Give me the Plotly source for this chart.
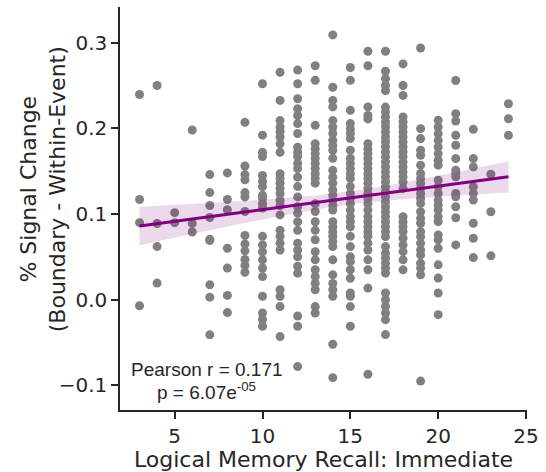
import numpy as np
import plotly.graph_objects as go

# Signal change values per Logical Memory Recall (Immediate) score
y_03 = [0.2395, 0.117, 0.0899, -0.007]
y_04 = [0.25, 0.089, 0.062, 0.0194]
y_05 = [0.1016, 0.0899]
y_06 = [0.198, 0.089, 0.079]
y_07 = [0.146, 0.125, 0.110, 0.096, 0.0705, 0.069, 0.0174, 0.003, -0.041]
y_08 = [0.148, 0.117, 0.105, 0.06, 0.037, 0.005, -0.015]
y_09 = [0.207, 0.156, 0.146, 0.140, 0.125, 0.120, 0.103, 0.075, 0.065, 0.057, 0.047, 0.040, 0.032]
y_10 = [0.252, 0.192, 0.172, 0.167, 0.145, 0.138, 0.132, 0.122, 0.118, 0.112, 0.107, 0.074, 0.064,
        0.056, 0.0465, 0.037, 0.027, 0.004, -0.0155, -0.023, -0.031]
y_11 = [0.2655, 0.2326, 0.209, 0.2016, 0.196, 0.19, 0.182, 0.172, 0.147, 0.1415, 0.136, 0.13, 0.124,
        0.116, 0.110, 0.099, 0.081, 0.074, 0.066, 0.058, 0.0116, 0.004, -0.008, -0.043]
y_12 = [0.268, 0.252, 0.2345, 0.223, 0.215, 0.2055, 0.194, 0.178, 0.172, 0.167, 0.159, 0.153, 0.143,
        0.132, 0.120, 0.1085, 0.101, 0.091, 0.081, 0.066, 0.058, 0.050, 0.039, 0.031, -0.019, -0.031, -0.078]
y_13 = [0.273, 0.256, 0.2035, 0.182, 0.176, 0.1705, 0.165, 0.159, 0.153, 0.147, 0.1415, 0.136, 0.112,
        0.103, 0.091, 0.081, 0.070, 0.056, 0.0465, 0.035, 0.027, 0.019, 0.0116, -0.008, -0.0155]
y_14 = [0.309, 0.248, 0.2326, 0.225, 0.209, 0.2016, 0.194, 0.186, 0.180, 0.1744, 0.165, 0.151, 0.143,
        0.136, 0.128, 0.122, 0.116, 0.110, 0.1047, 0.091, 0.085, 0.079, 0.074, 0.068, 0.062, 0.0465,
        0.029, 0.019, 0.0116, 0.004, -0.052, -0.091]
y_15 = [0.271, 0.256, 0.221, 0.2055, 0.1996, 0.194, 0.188, 0.1744, 0.165, 0.159, 0.153, 0.147, 0.1415,
        0.132, 0.124, 0.118, 0.112, 0.1047, 0.097, 0.091, 0.085, 0.074, 0.062, 0.050, 0.0445, 0.035,
        0.025, 0.0078, 0.004, -0.008, -0.031]
y_16 = [0.290, 0.273, 0.225, 0.215, 0.211, 0.182, 0.176, 0.1705, 0.165, 0.159, 0.153, 0.147, 0.1415,
        0.136, 0.130, 0.124, 0.118, 0.112, 0.1047, 0.097, 0.091, 0.085, 0.079, 0.074, 0.066, 0.058,
        0.0465, 0.035, 0.0136, -0.087]
y_17 = [0.290, 0.2667, 0.258, 0.25, 0.244, 0.2248, 0.219, 0.2132, 0.2074, 0.2016, 0.1957, 0.1899,
        0.1841, 0.1783, 0.1725, 0.1667, 0.1609, 0.155, 0.1492, 0.1434, 0.1376, 0.1318, 0.126, 0.1202,
        0.1143, 0.1085, 0.1027, 0.0969, 0.0911, 0.0853, 0.0795, 0.0736, 0.062, 0.0543, 0.0485, 0.0426,
        0.0368, 0.031, 0.0078, 0.0, -0.0078, -0.0155, -0.0233, -0.0407]
y_18 = [0.2752, 0.25, 0.2384, 0.2132, 0.2074, 0.2016, 0.1957, 0.1899, 0.1841, 0.1783, 0.1725, 0.1667,
        0.1609, 0.155, 0.1492, 0.1434, 0.1376, 0.13, 0.0969, 0.0911, 0.0853, 0.0795, 0.0717, 0.064,
        0.0562, 0.0465, 0.0349]
y_19 = [0.2938, 0.1996, 0.188, 0.1744, 0.1686, 0.157, 0.1473, 0.1415, 0.1357, 0.1299, 0.124, 0.1182,
        0.1124, 0.1027, 0.095, 0.0892, 0.0795, 0.0736, 0.0659, 0.0581, 0.0523, 0.0426, 0.0368, 0.0291, -0.095]
y_20 = [0.2093, 0.2016, 0.1938, 0.186, 0.1783, 0.1705, 0.1628, 0.157, 0.1395, 0.1318, 0.124, 0.1163,
        0.1105, 0.1047, 0.0969, 0.0911, 0.0756, 0.0698, 0.0601, 0.0407, 0.0252, 0.0078, -0.0174]
y_21 = [0.2558, 0.2171, 0.2085, 0.1919, 0.1802, 0.1647, 0.1512, 0.1473, 0.1434, 0.124, 0.1202, 0.1085,
        0.0957, 0.064]
y_22 = [0.1988, 0.1647, 0.155, 0.1318, 0.124, 0.1163, 0.0892, 0.0717, 0.0492]
y_23 = [0.1465, 0.1027, 0.0512]
y_24 = [0.2287, 0.2112, 0.1919]

scores = list(range(3, 25))
columns = [y_03, y_04, y_05, y_06, y_07, y_08, y_09, y_10, y_11, y_12, y_13, y_14,
           y_15, y_16, y_17, y_18, y_19, y_20, y_21, y_22, y_23, y_24]

x_ticks = [5, 10, 15, 20, 25]
y_ticks = [-0.1, 0.0, 0.1, 0.2, 0.3]

x_title = "Logical Memory Recall: Immediate"
y_title = "% Signal Change<br>(Boundary - Within-Event)"
stat_line1 = "Pearson r = 0.171"
stat_line2 = "p = 6.07e<sup>-05</sup>"

x = np.concatenate([[s] * len(c) for s, c in zip(scores, columns)]).astype(float)
y = np.concatenate(columns).astype(float)

# OLS fit with 95% CI
slope, intercept = np.polyfit(x, y, 1)
n = len(x)
xg = np.linspace(x.min(), x.max(), 100)
yg = intercept + slope * xg
resid = y - (intercept + slope * x)
s = np.sqrt(np.sum(resid ** 2) / (n - 2))
sxx = np.sum((x - x.mean()) ** 2)
se = s * np.sqrt(1.0 / n + (xg - x.mean()) ** 2 / sxx)
upper = yg + 1.96 * se
lower = yg - 1.96 * se

ink = "#262626"
fig = go.Figure()
fig.add_trace(go.Scatter(x=x, y=y, mode="markers",
                         marker=dict(size=9, color="rgb(128,128,128)", line=dict(width=0)),
                         showlegend=False, hoverinfo="x+y"))
fig.add_trace(go.Scatter(x=np.concatenate([xg, xg[::-1]]), y=np.concatenate([upper, lower[::-1]]),
                         fill="toself", fillcolor="rgba(128,0,128,0.15)", line=dict(width=0),
                         mode="lines", showlegend=False, hoverinfo="skip"))
fig.add_trace(go.Scatter(x=xg, y=yg, mode="lines", line=dict(color="#800080", width=3),
                         showlegend=False))

fig.update_layout(
    width=546, height=472,
    margin=dict(l=120, r=12, t=7, b=61),
    paper_bgcolor="white", plot_bgcolor="white",
    font=dict(family="DejaVu Sans", color=ink, size=20),
    xaxis=dict(range=[1.888, 25.056], tickvals=x_ticks, showgrid=False, zeroline=False,
               showline=True, linecolor=ink, linewidth=1.5, ticks="outside", ticklen=7,
               tickwidth=1.5, tickcolor=ink, tickfont=dict(size=20, color=ink),
               title=dict(text=x_title, font=dict(size=22, color=ink), standoff=2)),
    yaxis=dict(range=[-0.1287, 0.3416], tickvals=y_ticks, tickformat=".1f", showgrid=False,
               zeroline=False, showline=True, linecolor=ink, linewidth=1.5, ticks="outside",
               ticklen=7, tickwidth=1.5, tickcolor=ink, tickfont=dict(size=20, color=ink)),
    annotations=[
        dict(text=y_title, xref="paper", yref="paper", x=-0.19, y=0.547, xanchor="center",
             yanchor="middle", textangle=-90, showarrow=False,
             font=dict(size=22, color=ink, family="DejaVu Sans")),
        dict(text=stat_line1, xref="paper", yref="paper", x=0.2126, y=0.1008, xanchor="center",
             yanchor="middle", showarrow=False,
             font=dict(size=19, color=ink, family="Liberation Sans")),
        dict(text=stat_line2, xref="paper", yref="paper", x=0.2126, y=0.0463, xanchor="center",
             yanchor="middle", showarrow=False,
             font=dict(size=19, color=ink, family="Liberation Sans")),
    ],
)

fig.write_html("out.html")
